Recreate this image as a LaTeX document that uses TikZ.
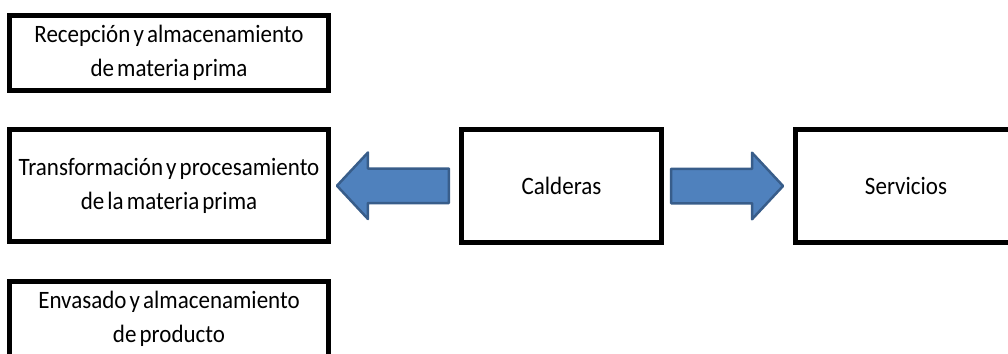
\documentclass[tikz,border=0pt]{standalone}
\usepackage{fontspec}
\setmainfont{Carlito}[FakeStretch=0.92, WordSpace=0.6]
\usetikzlibrary{shapes.arrows,calc}

\definecolor{flechaazul}{HTML}{4F81BD}
\definecolor{bordeazul}{HTML}{385D8A}

\tikzset{
  caja/.style={draw, line width=5pt, align=center, inner sep=0pt,
    font=\fontsize{25}{34}\selectfont},
  flecha/.style={single arrow, draw=bordeazul, fill=flechaazul,
    line width=2.5pt, line join=round, inner xsep=0pt, inner ysep=16pt,
    minimum height=112,
    single arrow head extend=16, single arrow tip angle=94},
}

\begin{document}
\begin{tikzpicture}[x=1pt,y=-1pt]
  \useasboundingbox (0,0) rectangle (1008,353);
  \clip (0,0) rectangle (1008,353);

  % boxes
  \node[caja, minimum width=319, minimum height=75] (recepcion) at (169,53)
    {Recepción y almacenamiento\\de materia prima};
  \node[caja, minimum width=319, minimum height=112] (transformacion) at (169,185.5)
    {Transformación y procesamiento\\de la materia prima};
  \node[caja, minimum width=319, minimum height=75] (envasado) at (169,319)
    {Envasado y almacenamiento\\de producto};
  \node[caja, minimum width=200, minimum height=113] (calderas) at (561.5,186)
    {Calderas};
  \node[caja, minimum width=221, minimum height=113] (servicios) at (906,186)
    {Servicios};

  % arrows (node centre sits in the shaft, so nudge toward the tail)
  \node[flecha, shape border rotate=180, xshift=6pt] (flechaizq)
    at ($(transformacion.east)!0.5!(calderas.west)$) {};
  \node[flecha, xshift=-9.5pt] (flechader)
    at ($(calderas.east)!0.5!(servicios.west)$) {};
\end{tikzpicture}
\end{document}
